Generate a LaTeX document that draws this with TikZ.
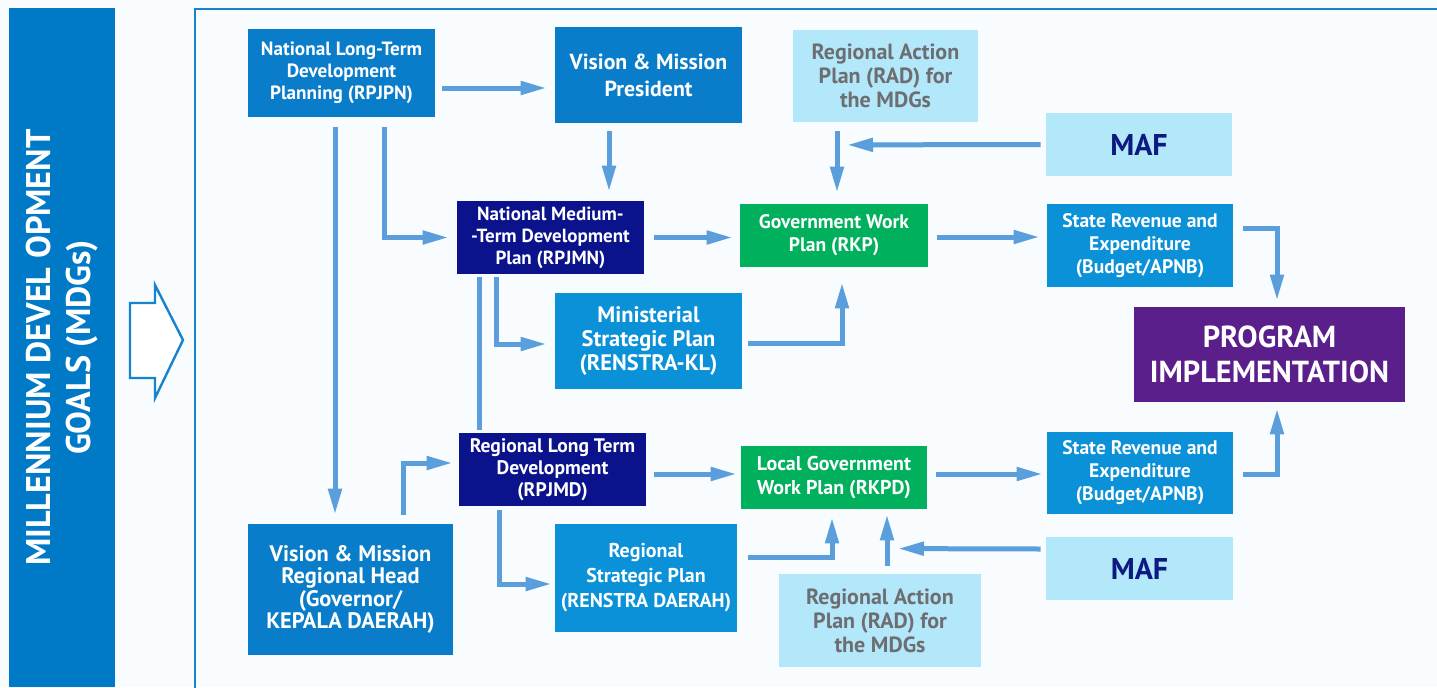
\documentclass[tikz,border=0pt]{standalone}
\usepackage{fontspec}
\setmainfont{PT Sans}
\usetikzlibrary{arrows.meta,calc}
\definecolor{bgwhite}{HTML}{F8FCFE}
\definecolor{bandblue}{HTML}{0079C6}
\definecolor{frameblue}{HTML}{1682D0}
\definecolor{midblue}{HTML}{0A7DCA}
\definecolor{skyblue}{HTML}{0A91D8}
\definecolor{navy}{HTML}{0A128C}
\definecolor{planGreen}{HTML}{00B05C}
\definecolor{purple}{HTML}{5A1F8A}
\definecolor{paleblue}{HTML}{B3E8FB}
\definecolor{arrowblue}{HTML}{5A9FDB}
\definecolor{greytext}{HTML}{6D6E71}
\definecolor{maftext}{HTML}{0D1B80}

\tikzset{
  box/.style={inner sep=0pt, align=center, text=white},
  sz/.style 2 args={minimum width=#1*0.5pt, minimum height=#2*0.5pt},
  fs/.style 2 args={font=\fontsize{#1}{#2}\selectfont\bfseries},
  flow/.style={line width=2.5pt, draw=arrowblue, -{Triangle[length=13pt,width=6.5pt]}},
  link/.style={line width=2.5pt, draw=arrowblue}
}

\begin{document}
\begin{tikzpicture}[x=0.5pt,y=-0.5pt]
\useasboundingbox (0,0) rectangle (1437,687);
\fill[bgwhite] (0,0) rectangle (1437,687);

% left band and frame
\node[box, fill=bandblue, rotate=90, sz={679}{106}, fs={17.1}{20}] (mdg) at (62,347.5)
  {MILLENNIUM DEVEL OPMENT\\GOALS (MDGs)};
\draw[frameblue, line width=1.2pt, fill=white] (130,303) -- (155,303) -- (155,285) -- (183,340)
  -- (155,398) -- (155,378) -- (130,378) -- cycle;
\draw[frameblue, line width=1.3pt] (195,700) -- (195,9) -- (1450,9);

% national level
\node[box, fill=midblue, sz={187}{88}, fs={9.6}{11}] (rpjpn) at (341.5,73)
  {National Long-Term\\Development\\Planning (RPJPN)};
\node[box, fill=midblue, sz={187}{96}, fs={10.9}{13.5}] (vmp) at (648.5,75)
  {Vision \& Mission\\President};
\node[box, fill=paleblue, text=greytext, sz={185}{92}, fs={11}{12}] (rad1) at (885.5,76)
  {Regional Action\\Plan (RAD) for\\the MDGs};
\node[box, fill=paleblue, text=maftext, sz={186}{63}, fs={15}{16}] (maf1) at (1139,144.5) {MAF};
\node[box, fill=navy, sz={187}{73}, fs={9.5}{11}] (rpjmn) at (550.5,237.5)
  {National Medium-\\-Term Development\\Plan (RPJMN)};
\node[box, fill=planGreen, sz={188}{63}, fs={9.8}{11.5}] (rkp) at (834,235.5)
  {Government Work\\Plan (RKP)};
\node[box, fill=skyblue, sz={186}{83}, fs={9.8}{11.5}] (sre1) at (1140,245.5)
  {State Revenue and\\Expenditure\\(Budget/APNB)};
\node[box, fill=skyblue, sz={187}{96}, fs={11.2}{12}] (mini) at (648.5,341)
  {Ministerial\\Strategic Plan\\(RENSTRA-KL)};
\node[box, fill=purple, sz={271}{95}, fs={15.2}{17.5}] (prog) at (1269.5,354.5)
  {PROGRAM\\IMPLEMENTATION};

% regional level
\node[box, fill=navy, sz={187}{73}, fs={9.8}{11}] (rpjmd) at (552.5,469.5)
  {Regional Long Term\\Development\\(RPJMD)};
\node[box, fill=midblue, sz={205}{131}, fs={11.2}{11.3}] (vmrh) at (350.5,589.5)
  {Vision \& Mission\\Regional Head\\(Governor/\\KEPALA DAERAH)};
\node[box, fill=skyblue, sz={182}{108}, fs={10}{12.5}] (rsp) at (646,578)
  {Regional\\Strategic Plan\\(RENSTRA DAERAH)};
\node[box, fill=planGreen, sz={186}{63}, fs={10}{12}] (rkpd) at (834,477.5)
  {Local Government\\Work Plan (RKPD)};
\node[box, fill=skyblue, sz={186}{82}, fs={9.8}{11.5}] (sre2) at (1140,473)
  {State Revenue and\\Expenditure\\(Budget/APNB)};
\node[box, fill=paleblue, text=maftext, sz={187}{63}, fs={15}{16}] (maf2) at (1139.5,568.5) {MAF};
\node[box, fill=paleblue, text=greytext, sz={202}{93}, fs={11}{12}] (rad2) at (880,620.5)
  {Regional Action\\Plan (RAD) for\\the MDGs};

% connectors
\draw[flow] ($(rpjpn.east)+(7,15)$) -- ($(vmp.west)+(-8,13)$);
\draw[flow] ($(rpjpn.south)+(-6.5,10)$) -- ($(vmrh.north)+(-15.5,-9)$);
\draw[flow] ($(rpjpn.south)+(42.5,10)$) |- ($(rpjmn.west)+(-8,0)$);
\draw[flow] ($(vmp.south)+(-39.5,8)$) -- ($(rpjmn.north)+(58.5,-9)$);
\draw[flow] ($(rpjmn.east)+(10,0)$) -- ($(rkp.west)+(-7,2)$);
\draw[link] ($(rpjmn.south)+(-71.5,3)$) -- ($(rpjmd.north)+(-73.5,-3)$);
\draw[flow] ($(rpjmn.south)+(-54.5,3)$) |- ($(mini.west)+(-8,3)$);
\draw[flow] ($(mini.east)+(6,2)$) -| ($(rkp.south)+(8,15)$);
\draw[flow] ($(rad1.south)+(-48.5,9)$) -- ($(rkp.north)+(3,-11)$);
\draw[flow] ($(maf1.west)+(-5,0)$) -- ($(rad1.south)+(-38.5,22.5)$);
\draw[flow] ($(rkp.east)+(9,1.5)$) -- ($(sre1.west)+(-7,-8.5)$);
\draw[flow] ($(sre1.east)+(10,-17.5)$) -| ($(prog.north)+(7.5,-6)$);
\draw[flow] ($(vmrh.north)+(52.5,-9)$) |- ($(rpjmd.west)+(-6,-6.5)$);
\draw[flow] ($(rpjmd.east)+(8,4.5)$) -- ($(rkpd.west)+(-4,-3.5)$);
\draw[flow] ($(rpjmd.south)+(-53.5,4)$) |- ($(rsp.west)+(-3,6)$);
\draw[flow] ($(rsp.east)+(11,-21)$) -| ($(rkpd.south)+(-2,8)$);
\draw[flow] ($(rad2.north)+(7,-8)$) -- ($(rkpd.south)+(53,5)$);
\draw[flow] ($(maf2.west)+(-5,-19.5)$) -- ($(rad2.north)+(18,-25)$);
\draw[flow] ($(rkpd.east)+(9,-3.5)$) -- ($(sre2.west)+(-4,1)$);
\draw[flow] ($(sre2.east)+(10,1)$) -| ($(prog.south)+(7.5,6)$);
\end{tikzpicture}
\end{document}
